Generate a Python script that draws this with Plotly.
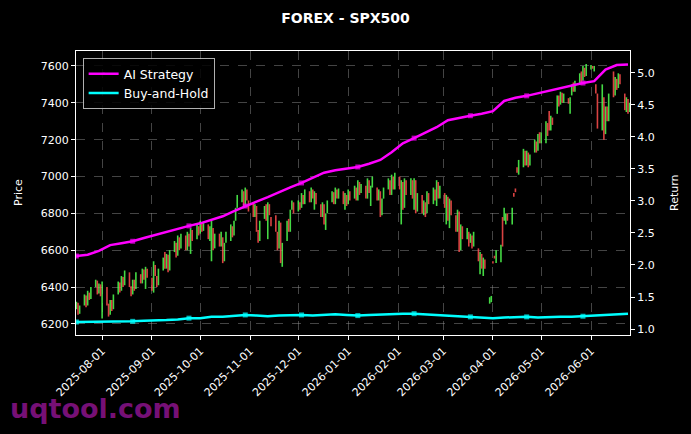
import pandas as pd
import plotly.graph_objects as go

# ---- price candles (open, close) per trading day ----
opens = [
    6280, 6315, 6255,
    6300, 6355, 6300, 6370, 6335,
    6400, 6435, 6365, 6415, 6230,
    6400, 6310, 6250, 6330, 6280,
    6360, 6425, 6380, 6455, 6410,
    6480, 6405, 6360, 6440, 6390,
    6470, 6420, 6495, 6390, 6500,
    6450, 6370, 6520, 6460, 6410,
    6490, 6590, 6500, 6575, 6490,
    6590, 6640, 6570, 6670, 6610,
    6680, 6600, 6690, 6580, 6710,
    6660, 6730, 6690, 6750, 6705,
    6740, 6650, 6540, 6720, 6610,
    6690, 6620, 6670, 6540, 6640,
    6650, 6730, 6680, 6760, 6830,
    6860, 6920, 6840, 6930, 6870,
    6860, 6780, 6840, 6710, 6650,
    6770, 6850, 6660, 6850, 6780,
    6790, 6700, 6610, 6750, 6510,
    6650, 6770, 6700, 6820, 6860,
    6810, 6860, 6830, 6900, 6850,
    6920, 6860, 6930, 6820, 6910,
    6850, 6780, 6850, 6710, 6800,
    6860, 6915, 6850, 6930, 6880,
    6920, 6820, 6900, 6850, 6920,
    6880, 6940, 6870, 6970, 6910,
    6950, 6880, 6980, 6840, 6940,
    6940, 6870, 6920, 6790, 6880,
    6930, 6980, 6900, 7000, 6930,
    7000, 6740, 6970, 6830, 6980,
    6900, 6980, 6820, 6980, 6810,
    6900, 6790, 6860, 6800, 6910,
    6850, 6930, 6840, 6970, 6880,
    6910, 6740, 6890, 6720, 6870,
    6790, 6700, 6810, 6600, 6730,
    6660, 6700, 6640, 6680, 6620,
    6610, 6470, 6580, 6460, 6550,
    6310, 6318, 6540, 6570, 6530,
    6535, 6780, 6760, 6740, 6800,
    6740, 6910, 6935, 7050, 7010,
    7050, 7140, 7060, 7130, 7060,
    7130, 7190, 7140, 7240, 7180,
    7180, 7290, 7355, 7250, 7320,
    7340, 7440, 7390, 7455, 7400,
    7425, 7340, 7440, 7510, 7460,
    7500, 7570, 7520, 7590, 7545,
    7580, 7600, 7570, 7500, 7450,
    7250, 7430, 7230, 7380, 7300,
    7570, 7440, 7530, 7480, 7555,
    7450, 7350, 7420, 7350,
]
closes = [
    6320, 6250, 6300,
    6360, 6290, 6380, 6330, 6400,
    6440, 6360, 6420, 6350, 6430,
    6300, 6240, 6330, 6270, 6360,
    6430, 6370, 6460, 6400, 6490,
    6400, 6350, 6440, 6380, 6480,
    6420, 6500, 6440, 6510, 6450,
    6380, 6540, 6460, 6400, 6500,
    6560, 6500, 6580, 6480, 6600,
    6650, 6560, 6680, 6600, 6690,
    6600, 6700, 6620, 6720, 6650,
    6740, 6680, 6760, 6700, 6750,
    6660, 6730, 6760, 6600, 6690,
    6620, 6700, 6530, 6640, 6700,
    6740, 6670, 6760, 6830, 6900,
    6930, 6840, 6940, 6870, 6810,
    6780, 6850, 6700, 6640, 6760,
    6840, 6760, 6860, 6790, 6730,
    6700, 6600, 6760, 6530, 6640,
    6760, 6700, 6820, 6870, 6800,
    6870, 6820, 6910, 6850, 6930,
    6860, 6940, 6880, 6920, 6850,
    6780, 6860, 6740, 6800, 6870,
    6920, 6850, 6940, 6880, 6935,
    6850, 6910, 6840, 6930, 6870,
    6950, 6870, 6980, 6900, 6960,
    6880, 6990, 6910, 6950, 7000,
    6870, 6930, 6780, 6880, 6940,
    6990, 6900, 7010, 6930, 7020,
    6930, 6980, 6820, 6990, 6900,
    6990, 6880, 6990, 6800, 6910,
    6800, 6870, 6780, 6920, 6850,
    6940, 6870, 6980, 6880, 6950,
    6830, 6900, 6760, 6880, 6790,
    6700, 6820, 6590, 6740, 6660,
    6720, 6620, 6690, 6610, 6700,
    6540, 6590, 6500, 6560, 6500,
    6345, 6352, 6528, 6555, 6600,
    6630, 6620, 6830, 6800, 6760,
    6830, 6890, 6915, 7020, 7090,
    7150, 7060, 7140, 7050, 7120,
    7200, 7130, 7230, 7180, 7240,
    7300, 7220, 7250, 7330, 7280,
    7440, 7380, 7460, 7400, 7450,
    7395, 7430, 7500, 7460, 7520,
    7560, 7510, 7600, 7540, 7610,
    7605, 7585, 7600, 7450, 7260,
    7500, 7200, 7380, 7300, 7450,
    7430, 7540, 7470, 7560, 7500,
    7360, 7430, 7340, 7400,
]

# ---- weekly return curves (secondary axis) ----
ai_strategy = [
    2.14, 2.16, 2.22, 2.31, 2.34, 2.37, 2.42, 2.47, 2.52, 2.57,
    2.61, 2.65, 2.71, 2.76, 2.84, 2.92, 2.99, 3.06, 3.14, 3.21,
    3.28, 3.36, 3.44, 3.48, 3.50, 3.53, 3.58, 3.64, 3.76, 3.90,
    3.98, 4.07, 4.15, 4.26, 4.30, 4.33, 4.36, 4.40, 4.56, 4.61,
    4.64, 4.68, 4.73, 4.76, 4.80, 4.84, 4.87, 5.05, 5.12, 5.13,
]
buy_hold = [
    1.11, 1.11, 1.11, 1.12, 1.11, 1.12, 1.13, 1.13, 1.14, 1.15,
    1.17, 1.17, 1.19, 1.19, 1.21, 1.22, 1.21, 1.20, 1.21, 1.22,
    1.22, 1.21, 1.22, 1.23, 1.22, 1.21, 1.22, 1.23, 1.24, 1.24,
    1.24, 1.23, 1.22, 1.22, 1.20, 1.19, 1.18, 1.17, 1.18, 1.19,
    1.19, 1.18, 1.19, 1.19, 1.19, 1.20, 1.21, 1.22, 1.23, 1.24,
]

price_dates = pd.bdate_range(start="2025-07-16", periods=len(opens))
ret_dates = pd.date_range(start="2025-07-16", periods=len(ai_strategy), freq="7D")

GREEN = "rgba(80,255,80,0.85)"
RED = "rgba(255,77,77,0.85)"
FONT = "DejaVu Sans"


def segments(up):
    xs, ys = [], []
    for d, o, c in zip(price_dates, opens, closes):
        if (c >= o) == up:
            xs += [d, d, None]
            ys += [o, c, None]
    return xs, ys


fig = go.Figure()
for up, col in ((True, GREEN), (False, RED)):
    sx, sy = segments(up)
    fig.add_trace(go.Scatter(
        x=sx, y=sy, mode="lines", line=dict(color=col, width=1.6),
        showlegend=False, hoverinfo="skip", connectgaps=False,
    ))

msize = [5 if i % 5 == 0 else 0 for i in range(len(ai_strategy))]
fig.add_trace(go.Scatter(
    x=ret_dates, y=ai_strategy, yaxis="y2", name="AI Strategy",
    mode="lines+markers", line=dict(color="#ff00ff", width=2.5),
    marker=dict(symbol="square", size=msize, color="#ff00ff", line=dict(width=0)),
))
fig.add_trace(go.Scatter(
    x=ret_dates, y=buy_hold, yaxis="y2", name="Buy-and-Hold",
    mode="lines+markers", line=dict(color="#00ffff", width=2.5),
    marker=dict(symbol="square", size=msize, color="#00ffff", line=dict(width=0)),
))

grid = "rgba(150,150,150,0.45)"
fig.update_layout(
    width=691, height=434, autosize=False,
    margin=dict(l=76, r=61, t=51, b=99),
    paper_bgcolor="black", plot_bgcolor="black",
    font=dict(family=FONT, color="white", size=11),
    title=dict(text="<b>FOREX - SPX500</b>", x=0.5, xanchor="center",
               y=1 - 18 / 434, yanchor="middle", font=dict(size=14, color="white")),
    xaxis=dict(
        type="date", range=["2025-07-15 18:00", "2026-06-25 06:00"],
        tick0="2025-08-01", dtick="M1", tickformat="%Y-%m-%d", tickangle=-45,
        showgrid=True, gridcolor=grid, griddash="dash", gridwidth=0.8,
        showline=True, linecolor="white", linewidth=1.2, mirror=True,
        ticks="outside", ticklen=4, tickcolor="white",
        rangeslider=dict(visible=False), zeroline=False,
        tickfont=dict(size=11, color="white"),
    ),
    yaxis=dict(
        range=[6140, 7681], tickvals=[6200, 6400, 6600, 6800, 7000, 7200, 7400, 7600],
        showgrid=True, gridcolor=grid, griddash="dash", gridwidth=0.8,
        showline=True, linecolor="white", linewidth=1.2, mirror=True,
        ticks="outside", ticklen=4, tickcolor="white", zeroline=False,
        tickfont=dict(size=11, color="white"),
    ),
    yaxis2=dict(
        overlaying="y", side="right", range=[0.907, 5.34],
        tickvals=[1.0, 1.5, 2.0, 2.5, 3.0, 3.5, 4.0, 4.5, 5.0],
        ticktext=["1.0", "1.5", "2.0", "2.5", "3.0", "3.5", "4.0", "4.5", "5.0"],
        showgrid=False, showline=True, linecolor="white", linewidth=1.2,
        ticks="outside", ticklen=4, tickcolor="white", zeroline=False,
        tickfont=dict(size=11, color="white"),
    ),
    legend=dict(
        x=0.012, y=0.975, xanchor="left", yanchor="top",
        bgcolor="rgba(0,0,0,0.85)", bordercolor="rgba(220,220,220,0.8)", borderwidth=1,
        font=dict(size=12.5, color="white"), itemwidth=30, tracegroupgap=2,
    ),
    annotations=[
        dict(text="Price", xref="paper", yref="paper", x=-58 / 554, y=0.5,
             textangle=-90, showarrow=False, font=dict(size=11, color="white"),
             xanchor="center", yanchor="middle"),
        dict(text="Return", xref="paper", yref="paper", x=1 + 44 / 554, y=0.5,
             textangle=-90, showarrow=False, font=dict(size=11, color="white"),
             xanchor="center", yanchor="middle"),
        dict(text="<b>uqtool.com</b>", xref="paper", yref="paper",
             x=-68 / 554, y=-73 / 284, xanchor="left", yanchor="middle",
             showarrow=False, font=dict(size=27, color="rgba(140,20,140,0.85)")),
    ],
)

fig.write_html("out.html")
